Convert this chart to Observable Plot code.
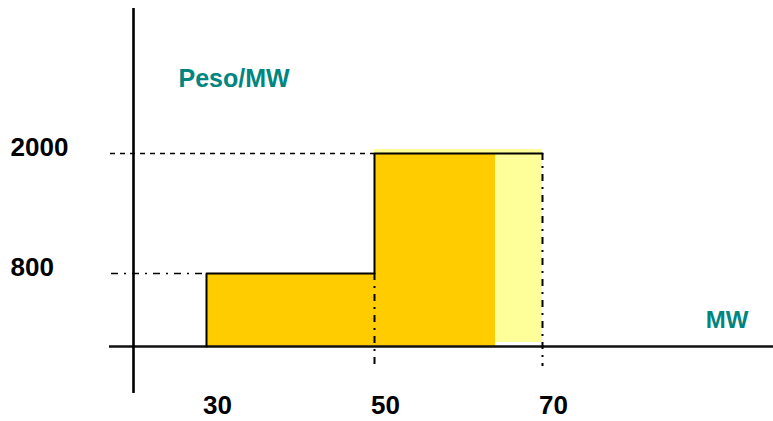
<!DOCTYPE html>
<html>
<head>
<meta charset="utf-8">
<script src="https://cdn.jsdelivr.net/npm/d3@7"></script>
<script src="https://cdn.jsdelivr.net/npm/@observablehq/plot@0.6"></script>
<style>
  html, body { margin: 0; padding: 0; background: #fff; }
  #chart svg { display: block; }
</style>
</head>
<body>
<div id="chart"></div>
<script>
// Capacity breakpoints (MW) and price levels (Peso/MW)
const capacityBreaks = [30, 50, 70];
const priceLevels = [800, 2000];
const dispatchedUpTo = 64.4;         // MW where the dark (dispatched) fill ends
const xTickLabels = ["30", "50", "70"];
const yTickLabels = ["800", "2000"];
const yAxisLabel = "Peso/MW";
const xAxisLabel = "MW";

const font = "'Liberation Sans', Arial, sans-serif";
const gold = "#FFCC00";
const pale = "#FFFF99";
const teal = "#008580";
const dashDot = "7,6,2,6";

// steps built from the arrays
const steps = priceLevels.map((p, i) => ({x1: capacityBreaks[i], x2: capacityBreaks[i + 1], price: p}));
const outline = [{x: capacityBreaks[0], y: 0}];
steps.forEach(s => { outline.push({x: s.x1, y: s.price}); outline.push({x: s.x2, y: s.price}); });

const lastStep = steps[steps.length - 1];

const chart = Plot.plot({
  width: 773,
  height: 421,
  marginLeft: 109,
  marginRight: 0,
  marginTop: 8,
  marginBottom: 28,
  x: {type: "linear", domain: [0, 30, 50, 70], range: [133, 206, 374, 542], axis: null},
  y: {type: "linear", domain: [0, 800, 2000], range: [346, 273, 153], axis: null},
  style: {fontFamily: font, background: "#fff"},
  marks: [
    // pale (undispatched) portion of the upper step
    Plot.rectY([lastStep], {x1: "x1", x2: "x2", y1: 0, y2: "price", fill: pale, dy: -4}),
    // gold fills
    Plot.rectY([steps[0]], {x1: "x1", x2: "x2", y1: 0, y2: "price", fill: gold}),
    Plot.rectY([lastStep], {x1: "x1", x2: () => dispatchedUpTo, y1: 0, y2: "price", fill: gold}),
    // axes lines
    Plot.ruleY([0], {stroke: "#111", strokeWidth: 2.5}),
    Plot.ruleX([0], {stroke: "#000", strokeWidth: 2.6}),
    // step outline
    Plot.line(outline, {x: "x", y: "y", stroke: "#000", strokeWidth: 2, curve: "linear"}),
    // reference lines
    Plot.ruleY([steps[1]], {y: "price", x1: 0, x2: "x1", insetLeft: -23, stroke: "#000", strokeWidth: 1.5, strokeDasharray: "5,5"}),
    Plot.ruleY([steps[0]], {y: "price", x1: 0, x2: "x1", insetLeft: -22, stroke: "#000", strokeWidth: 1.5, strokeDasharray: dashDot}),
    Plot.ruleX([steps[0]], {x: "x2", y1: "price", y2: 0, insetBottom: -22, stroke: "#000", strokeWidth: 2, strokeDasharray: dashDot}),
    Plot.ruleX([steps[1]], {x: "x2", y1: "price", y2: 0, insetBottom: -20, stroke: "#000", strokeWidth: 2, strokeDasharray: dashDot}),
    // tick labels
    Plot.text(capacityBreaks, {x: d => d, frameAnchor: "bottom", text: (d, i) => xTickLabels[i], dx: 11, dy: 20, lineAnchor: "bottom", fontSize: 26, fontWeight: "bold", fill: "#000"}),
    Plot.text(priceLevels, {y: d => d, frameAnchor: "left", text: (d, i) => yTickLabels[i], textAnchor: "start", dx: -99, dy: 2, lineAnchor: "bottom", fontSize: 26, fontWeight: "bold", fill: "#000"}),
    // axis titles
    Plot.text([yAxisLabel], {frameAnchor: "top-left", text: d => d, textAnchor: "start", lineAnchor: "bottom", dx: 69, dy: 78, fontSize: 25, fontWeight: "bold", fill: teal}),
    Plot.text([xAxisLabel], {y: () => 0, frameAnchor: "right", text: d => d, textAnchor: "end", lineAnchor: "bottom", dx: -25, dy: -19, fontSize: 24, fontWeight: "bold", fill: teal})
  ]
});
document.getElementById("chart").appendChild(chart);
</script>
</body>
</html>
